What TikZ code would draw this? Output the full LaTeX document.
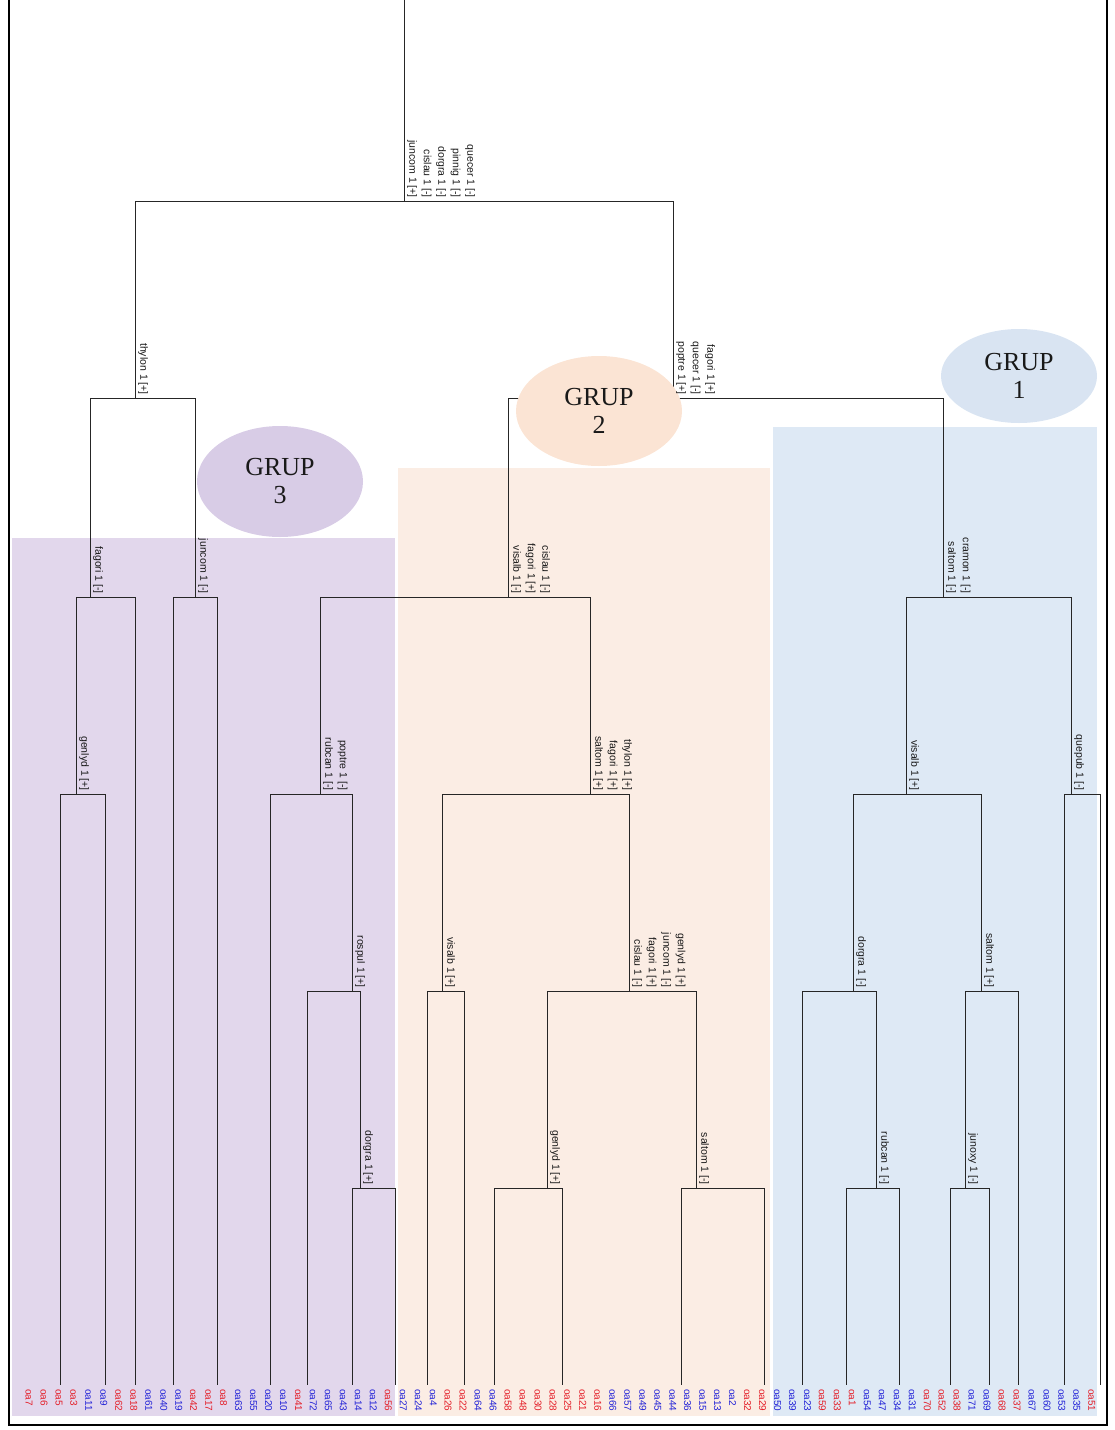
\documentclass[tikz,border=0pt]{standalone}
\usepackage{fontspec}
\setmainfont{Liberation Serif}
\setsansfont{Liberation Sans}
\usetikzlibrary{shapes.geometric}
\definecolor{gpurple}{RGB}{226,215,236}
\definecolor{gpurpleE}{RGB}{216,204,230}
\definecolor{gpeach}{RGB}{251,237,228}
\definecolor{gpeachE}{RGB}{251,228,212}
\definecolor{gblue}{RGB}{222,233,245}
\definecolor{gblueE}{RGB}{217,228,242}
\definecolor{lred}{RGB}{228,30,40}
\definecolor{lblue}{RGB}{35,35,215}
\tikzset{
  tree/.style={draw=black!85, line width=1pt},
  lab/.style={xshift=3pt, yshift=3pt, rotate=-90, anchor=south east, align=right, inner sep=0pt,
    font=\sffamily\fontsize{10.5}{14.5}\selectfont, text=black!90},
  leaf/.style={rotate=-90, anchor=west, inner sep=0pt, font=\sffamily\fontsize{10}{12}\selectfont},
  grup/.style={ellipse, inner sep=0pt, align=center, text=black!90,
    font=\fontsize{26}{28}\selectfont},
  frame/.style={draw=black, line width=1.4pt}
}
\begin{document}
\begin{tikzpicture}[x=1pt, y=-1pt]
\useasboundingbox (0,0) rectangle (1115,1430);
% group regions
\fill[gpurple] (12,538) rectangle (395,1416);
\fill[gpeach] (398,468) rectangle (770,1416);
\fill[gblue] (773,427) rectangle (1097,1416);
% frame
\draw[frame] (9,0) -- (9,1425) -- (1107,1425) -- (1107,0);
% tree coordinates
\coordinate (top) at (404,0);
\coordinate (n0) at (404,201);
\coordinate (nL) at (135,398);
\coordinate (nR) at (673,398);
\coordinate (a1) at (90,597);
\coordinate (a2) at (195,597);
\coordinate (a11) at (76,794);
\coordinate (b) at (508,597);
\coordinate (b1) at (320,794);
\coordinate (b11) at (352,991);
\coordinate (b111) at (360,1188);
\coordinate (b2) at (590,794);
\coordinate (b21) at (442,991);
\coordinate (b22) at (629,991);
\coordinate (b221) at (547,1188);
\coordinate (b222) at (696,1188);
\coordinate (c) at (943,597);
\coordinate (c1) at (906,794);
\coordinate (c11) at (853,991);
\coordinate (c111) at (876,1188);
\coordinate (c12) at (981,991);
\coordinate (c121) at (965,1188);
\coordinate (c2) at (1071,794);
\foreach \n/\x in {t1/60,t2/105,t3/135,t4/173,t5/217,t6/270,t7/307,t8/352,t9/395,
  t10/427,t11/464,t12/494,t13/562,t14/681,t15/764,t16/802,t17/846,t18/899,
  t19/950,t20/989,t21/1018,t22/1064,t23/1100}
  \coordinate (\n) at (\x,1385);
% edges
\draw[tree] (top) -- (n0);
\foreach \p/\q in {n0/nL, n0/nR, nL/a1, nL/a2, a1/a11, a1/t3, a11/t1, a11/t2, a2/t4, a2/t5,
  nR/b, nR/c, b/b1, b/b2, b1/t6, b1/b11, b11/t7, b11/b111, b111/t8, b111/t9,
  b2/b21, b2/b22, b21/t10, b21/t11, b22/b221, b22/b222, b221/t12, b221/t13, b222/t14, b222/t15,
  c/c1, c/c2, c1/c11, c1/c12, c11/t16, c11/c111, c111/t17, c111/t18,
  c12/c121, c12/t21, c121/t19, c121/t20, c2/t22, c2/t23}
  \draw[tree] (\p) -| (\q);
% group ellipses
\node[grup, fill=gpurpleE, minimum width=166pt, minimum height=111pt] (g3) at (280,481.5) {GRUP\\3};
\node[grup, fill=gpeachE, minimum width=166pt, minimum height=110pt] (g2) at (599,411) {GRUP\\2};
\node[grup, fill=gblueE, minimum width=156pt, minimum height=94pt] (g1) at (1019,376) {GRUP\\1};
% split labels
\node[lab] (Ln0) at (n0) {quecer 1 [-]\\pinnig 1 [-]\\dorgra 1 [-]\\cislau 1 [-]\\juncom 1 [+]};
\node[lab] (LnL) at (nL) {thylon 1 [+]};
\node[lab] (LnR) at (nR) {fagori 1 [+]\\quecer 1 [-]\\poptre 1 [+]};
\node[lab] (La1) at (a1) {fagori 1 [-]};
\node[lab] (La2) at (a2) {juncom 1 [-]};
\node[lab] (La11) at (a11) {genlyd 1 [+]};
\node[lab] (Lb) at (b) {cislau 1 [-]\\fagori 1 [+]\\visalb 1 [-]};
\node[lab] (Lb1) at (b1) {poptre 1 [-]\\rubcan 1 [-]};
\node[lab] (Lb11) at (b11) {rospul 1 [+]};
\node[lab] (Lb111) at (b111) {dorgra 1 [+]};
\node[lab] (Lb2) at (b2) {thylon 1 [+]\\fagori 1 [+]\\saltom 1 [+]};
\node[lab] (Lb21) at (b21) {visalb 1 [+]};
\node[lab] (Lb22) at (b22) {genlyd 1 [+]\\juncom 1 [-]\\fagori 1 [+]\\cislau 1 [-]};
\node[lab] (Lb221) at (b221) {genlyd 1 [+]};
\node[lab] (Lb222) at (b222) {saltom 1 [-]};
\node[lab] (Lc) at (c) {cramon 1 [-]\\saltom 1 [-]};
\node[lab] (Lc1) at (c1) {visalb 1 [+]};
\node[lab] (Lc11) at (c11) {dorgra 1 [-]};
\node[lab] (Lc111) at (c111) {rubcan 1 [-]};
\node[lab] (Lc12) at (c12) {saltom 1 [+]};
\node[lab] (Lc121) at (c121) {junoxy 1 [-]};
\node[lab] (Lc2) at (c2) {quepub 1 [-]};
% leaf labels
\foreach \nm/\cl [count=\i] in {oa7/lred, oa6/lred, oa5/lred, oa3/lred, oa11/lblue, oa9/lblue,
  oa62/lred, oa18/lred, oa61/lblue, oa40/lblue, oa19/lblue, oa42/lred, oa17/lred, oa8/lred,
  oa63/lblue, oa55/lblue, oa20/lblue, oa10/lblue, oa41/lred, oa72/lblue, oa65/lblue, oa43/lblue,
  oa14/lblue, oa12/lblue, oa56/lred, oa27/lblue, oa24/lblue, oa4/lblue, oa26/lred, oa22/lred,
  oa64/lblue, oa46/lblue, oa58/lred, oa48/lred, oa30/lred, oa28/lred, oa25/lred, oa21/lred,
  oa16/lred, oa66/lblue, oa57/lblue, oa49/lblue, oa45/lblue, oa44/lblue, oa36/lblue, oa15/lblue,
  oa13/lblue, oa2/lblue, oa32/lred, oa29/lred, oa50/lblue, oa39/lblue, oa23/lblue, oa59/lred,
  oa33/lred, oa1/lred, oa54/lblue, oa47/lblue, oa34/lblue, oa31/lblue, oa70/lred, oa52/lred,
  oa38/lred, oa71/lblue, oa69/lblue, oa68/lred, oa37/lred, oa67/lblue, oa60/lblue, oa53/lblue,
  oa35/lblue, oa51/lred}
  \node[leaf, text=\cl] (lf\i) at ({29+(\i-1)*14.97},1389) {\nm};
\end{tikzpicture}
\end{document}
